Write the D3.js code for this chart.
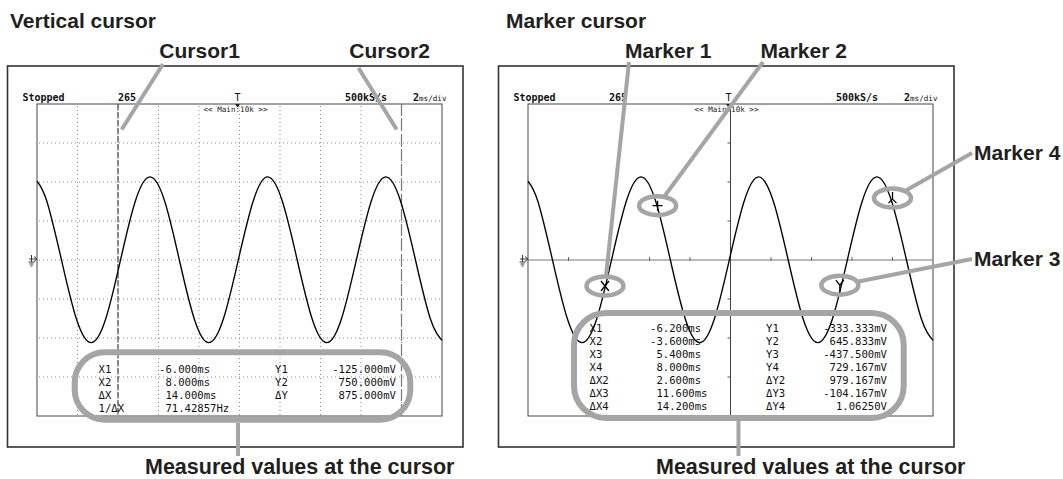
<!DOCTYPE html>
<html><head><meta charset="utf-8">
<script src="https://cdn.jsdelivr.net/npm/d3@7"></script>
<style>
html,body{margin:0;padding:0;background:#fff;}
svg{display:block;}
</style></head><body>
<svg id="c" width="1063" height="479"></svg>
<script>
// ---- data ----
// waveform (time in ms, level in mV) — same acquisition in both screens
const waveTime = [-10.0,-9.51,-8.79,-8.06,-7.33,-6.60,-5.875,-5.15,-4.42,-3.69,-2.97,-2.24,-1.52,-0.79,-0.06,0.67,1.39,2.12,2.85,3.58,4.31,5.04,5.77,6.50,7.23,7.96,8.69,9.42,10.0];
const waveMv   = [1010,750,0,-750,-1060,-750,0,750,1065,750,0,-750,-1060,-750,0,750,1065,750,0,-750,-1060,-750,0,750,1065,750,0,-750,-1030];

const timeTicks = [-8,-6,-4,-2,0,2,4,6,8];            // ms, 2 ms/div
const voltTicks = [-1500,-1000,-500,0,500,1000,1500];  // mV, 500 mV/div

// screen header texts
const headerStatus = "Stopped";
const headerRecords = "265";
const headerRate = "500kS/s";
const headerDivNum = "2";
const headerDivUnit = "ms/div";
const headerZoom = "<< Main:10k >>";

// vertical cursor screen
const cursorTimes = [-6, 8];
const vcLabelsX = ["X1","X2","ΔX","1/ΔX"];
const vcValuesX = ["-6.000ms","8.000ms","14.000ms","71.42857Hz"];
const vcLabelsY = ["Y1","Y2","ΔY"];
const vcValuesY = ["-125.000mV","750.000mV","875.000mV"];

// marker cursor screen
const markerTime = [-6.2, -3.6, 5.4, 8.0];
const markerMv   = [-333.333, 645.833, -437.5, 729.167];
const markerShape = ["x","+","y","l"];
const mcLabelsX = ["X1","X2","X3","X4","ΔX2","ΔX3","ΔX4"];
const mcValuesX = ["-6.200ms","-3.600ms","5.400ms","8.000ms","2.600ms","11.600ms","14.200ms"];
const mcLabelsY = ["Y1","Y2","Y3","Y4","ΔY2","ΔY3","ΔY4"];
const mcValuesY = ["-333.333mV","645.833mV","-437.500mV","729.167mV","979.167mV","-104.167mV","1.06250V"];

// annotation texts
const titles = ["Vertical cursor","Marker cursor"];
const cursorNames = ["Cursor1","Cursor2"];
const markerNames = ["Marker 1","Marker 2","Marker 3","Marker 4"];
const measuredText = "Measured values at the cursor";

// ---- drawing ----
const svg = d3.select('#c');
const SANS = "'Liberation Sans', Arial, Helvetica, sans-serif";
const MONO = "'DejaVu Sans Mono', monospace";
const GREY = '#a5a5a5';
const INK = '#231f20';
const waveData = waveTime.map((t,i)=>({t, v: waveMv[i]}));

function screen(dx){
  const g = svg.append('g').attr('transform', `translate(${dx},0)`);
  g.append('rect').attr('x',7.5).attr('y',66).attr('width',455.5).attr('height',381)
    .attr('fill','none').attr('stroke','#333').attr('stroke-width',1.6);
  const x = d3.scaleLinear().domain([-10,10]).range([37,442]);
  const y = d3.scaleLinear().domain([-2000,2000]).range([416,104]);
  // header
  const hb = 101;
  const ht = g.append('g').attr('font-family', MONO).attr('font-size', 10).attr('font-weight','bold').attr('fill','#111');
  ht.append('text').attr('x',22.5).attr('y',hb).text(headerStatus);
  ht.append('text').attr('x',118).attr('y',hb).text(headerRecords);
  ht.append('text').attr('x',345).attr('y',hb).text(headerRate);
  const dv = ht.append('text').attr('x',413).attr('y',hb);
  dv.append('tspan').text(headerDivNum);
  dv.append('tspan').attr('font-size',7.6).attr('font-weight','normal').text(headerDivUnit);
  // trigger mark
  ht.append('text').attr('x',x(0)-2).attr('y',hb).attr('text-anchor','middle').attr('font-weight','normal').text('T');
  g.append('path').attr('d',`M${x(0)-4.5},104 h5 l-2.5,3.5z`).attr('fill','#111');
  g.append('text').attr('x',x(0)-4).attr('y',111.5).attr('text-anchor','middle')
    .attr('font-family',MONO).attr('font-size',7.6).attr('fill','#222').text(headerZoom);
  // ground mark
  const gy = y(0);
  g.append('path').attr('d',`M29,${gy-1} h8 M34,${gy-3.5} l3,2.5 l-3,2.5 M31.5,${gy-5} v7 M28.5,${gy+2} h6 M29.5,${gy+4} h4 M30.5,${gy+6} h2`)
    .attr('stroke','#222').attr('stroke-width',0.9).attr('fill','none');
  return {g,x,y};
}

function waveform(s){
  const line = d3.line().x(d=>s.x(d.t)).y(d=>s.y(d.v)).curve(d3.curveNatural);
  s.g.append('path').datum(waveData).attr('d',line).attr('fill','none')
    .attr('stroke','#000').attr('stroke-width',1.35);
}

function table(s, labX, valX, labY, valY, base, step){
  const t = s.g.append('g').attr('font-family',MONO).attr('font-size',10.6).attr('fill','#111');
  const cw = 6.38;
  labX.forEach((d,i)=> t.append('text').attr('x',98.5).attr('y',base+i*step).text(d));
  valX.forEach((d,i)=> t.append('text').attr('x', d[0]==='-'?159:159+cw).attr('y',base+i*step).text(d));
  labY.forEach((d,i)=> t.append('text').attr('x',275).attr('y',base+i*step).text(d));
  valY.forEach((d,i)=> t.append('text').attr('x',396).attr('y',base+i*step).attr('text-anchor','end').text(d));
}

function plotFrame(s){
  s.g.append('rect').attr('x',37).attr('y',104).attr('width',405).attr('height',312)
    .attr('fill','none').attr('stroke','#444').attr('stroke-width',1);
}

// ---------- left screen: vertical cursor ----------
const L = screen(0);
const grid = L.g.append('g').attr('stroke','#8a8a8a').attr('stroke-width',1).attr('stroke-dasharray','1,3');
timeTicks.forEach(t=> grid.append('line').attr('x1',L.x(t)).attr('x2',L.x(t)).attr('y1',106).attr('y2',416));
voltTicks.forEach(v=> grid.append('line').attr('x1',39).attr('x2',442).attr('y1',L.y(v)).attr('y2',L.y(v)));
plotFrame(L);
L.g.append('line').attr('x1',L.x(cursorTimes[0])).attr('x2',L.x(cursorTimes[0])).attr('y1',104).attr('y2',416)
  .attr('stroke','#222').attr('stroke-width',1).attr('stroke-dasharray','6,2');
L.g.append('line').attr('x1',L.x(cursorTimes[1])).attr('x2',L.x(cursorTimes[1])).attr('y1',104).attr('y2',416)
  .attr('stroke','#777').attr('stroke-width',1.2).attr('stroke-dasharray','12,3');
waveform(L);
table(L, vcLabelsX, vcValuesX, vcLabelsY, vcValuesY, 372.5, 13);

// ---------- right screen: marker cursor ----------
const R = screen(491);
plotFrame(R);
const ax = R.g.append('g');
ax.append('line').attr('x1',37).attr('x2',442).attr('y1',R.y(0)).attr('y2',R.y(0)).attr('stroke','#777').attr('stroke-width',1);
ax.append('line').attr('x1',R.x(0)).attr('x2',R.x(0)).attr('y1',104).attr('y2',416).attr('stroke','#444').attr('stroke-width',1);
timeTicks.filter(t=>t!==0).forEach(t=> ax.append('line').attr('x1',R.x(t)).attr('x2',R.x(t)).attr('y1',R.y(0)-3).attr('y2',R.y(0)+1).attr('stroke','#666'));
voltTicks.filter(v=>v!==0).forEach(v=> ax.append('line').attr('x1',R.x(0)-3).attr('x2',R.x(0)).attr('y1',R.y(v)).attr('y2',R.y(v)).attr('stroke','#555'));
waveform(R);
table(R, mcLabelsX, mcValuesX, mcLabelsY, mcValuesY, 331.5, 13);
// marker symbols: each glyph has its hotspot on the measured point
const glyphCenter = []; // visual centre of each glyph (for the highlight ellipse)
markerTime.forEach((t,i)=>{
  const px = R.x(t), py = R.y(markerMv[i]);
  let d, cy;
  if (markerShape[i]==='x') { d = `M${px-4},${py-5} L${px+4},${py+5} M${px+4},${py-5} L${px-4},${py+5}`; cy = py; }
  else if (markerShape[i]==='+') { d = `M${px-5},${py-4} H${px+5} M${px},${py-9} V${py+1}`; cy = py-4; }
  else if (markerShape[i]==='y') { d = `M${px-4},${py-14} L${px},${py-9} L${px+4},${py-14} M${px},${py-9} V${py-2}`; cy = py-9; }
  else { d = `M${px},${py-11} V${py-4} M${px-4},${py} L${px},${py-4} L${px+4},${py}`; cy = py-5; }
  R.g.append('path').attr('d',d).attr('stroke','#000').attr('stroke-width',1.3).attr('fill','none');
  glyphCenter.push([491+px, cy]);
});

// ---------- annotations ----------
const ann = svg.append('g');
const lead = (x1,y1,x2,y2,w=4)=> ann.append('line').attr('x1',x1).attr('y1',y1).attr('x2',x2).attr('y2',y2)
  .attr('stroke',GREY).attr('stroke-width',w);
// left
lead(163,64,121.7,129.5);
lead(358.5,68,396.7,129.5);
ann.append('rect').attr('x',74.7).attr('y',352.3).attr('width',335.6).attr('height',67.4).attr('rx',30)
  .attr('fill','none').attr('stroke',GREY).attr('stroke-width',6);
lead(238,423,238,456);
// right: highlight ellipses and their leaders (leaders end on the ellipse ring)
const ERX = 18.5, ERY = 9.5;
const leaderStart = [[629,62],[763,62],[972,259],[972,153]];
glyphCenter.forEach((c,i)=>{
  ann.append('ellipse').attr('cx',c[0]).attr('cy',c[1]).attr('rx',ERX).attr('ry',ERY)
    .attr('fill','none').attr('stroke',GREY).attr('stroke-width',4.5);
  const s = leaderStart[i];
  const ang = Math.atan2((s[1]-c[1])/ERY, (s[0]-c[0])/ERX);
  lead(s[0], s[1], c[0]+ERX*Math.cos(ang), c[1]+ERY*Math.sin(ang));
});
ann.append('rect').attr('x',574).attr('y',313).attr('width',329.7).attr('height',105).attr('rx',32)
  .attr('fill','none').attr('stroke',GREY).attr('stroke-width',6);
lead(738.5,421,738.5,456);

const tx = svg.append('g').attr('font-family',SANS).attr('font-weight','bold').attr('fill',INK).attr('font-size',21);
tx.append('text').attr('x',10).attr('y',28).text(titles[0]);
tx.append('text').attr('x',506).attr('y',28).text(titles[1]);
tx.append('text').attr('x',159.3).attr('y',58).text(cursorNames[0]);
tx.append('text').attr('x',349.3).attr('y',58).text(cursorNames[1]);
tx.append('text').attr('x',625).attr('y',58).text(markerNames[0]);
tx.append('text').attr('x',760.5).attr('y',58).text(markerNames[1]);
tx.append('text').attr('x',974).attr('y',266).text(markerNames[2]);
tx.append('text').attr('x',974).attr('y',160).text(markerNames[3]);
tx.append('text').attr('x',145).attr('y',473.5).attr('font-size',21.5).text(measuredText);
tx.append('text').attr('x',656).attr('y',473.5).attr('font-size',21.5).text(measuredText);
</script>
</body></html>
